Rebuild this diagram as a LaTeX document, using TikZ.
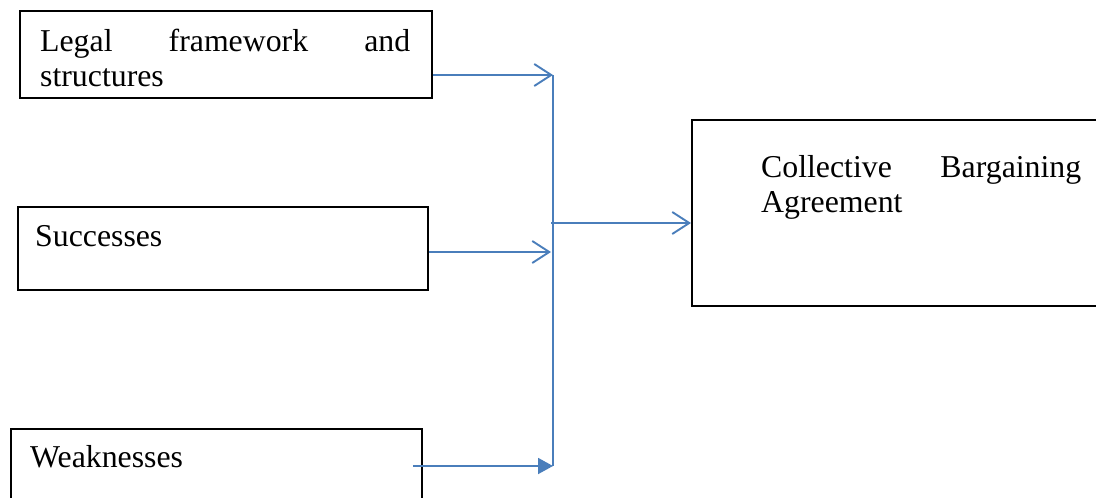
\documentclass[tikz,border=0pt]{standalone}
\usepackage{fontspec}
\setmainfont{Liberation Serif}
\usetikzlibrary{arrows.meta}
\definecolor{linkblue}{HTML}{4A7EBB}

\begin{document}
\begin{tikzpicture}[x=1pt,y=-1pt,
	box/.style={draw,line width=1.8pt,rectangle,inner sep=0pt,anchor=north west},
	lbl/.style={inner sep=0pt,anchor=base west,align=left,
		font=\fontsize{31.8}{35}\selectfont},
	link/.style={draw=linkblue,line width=1.9pt},
	barb/.style={-{Straight Barb[length=17pt,width=22pt]}}]
\useasboundingbox (0,0) rectangle (1096,498);
\clip (0,0) rectangle (1096,498);

\node[box,minimum width=412pt,minimum height=87pt] (legal) at (19,10) {};
\node[box,minimum width=410pt,minimum height=83pt] (success) at (17,206) {};
\node[box,minimum width=411pt,minimum height=76pt] (weak) at (10,428) {}; % runs off the bottom
\node[box,minimum width=420pt,minimum height=186pt] (cba) at (691,119) {}; % runs off the right

% base of a two-line label is its last line
\node[lbl] (legal text) at (40,86)
	{\hbox to 370pt{Legal\hfill framework\hfill and}\\structures};
\node[lbl] (success text) at (35,246)
	{Successes};
\node[lbl] (weak text) at (30,467)
	{Weaknesses};
\node[lbl] (cba text) at (761,212)
	{\hbox to 320pt{Collective\hfill Bargaining}\\Agreement};

\coordinate (top join) at (553,75);
\coordinate (mid in) at (551,252);
\coordinate (low join) at (553,466);
\coordinate (out start) at (551,223);
\coordinate (weak start) at ([xshift=-10pt]weak.east); % line starts inside the box

\draw[link] (top join) -- (low join);
\draw[link,barb] (legal.east |- top join) -- (top join);
\draw[link,barb] (success.east |- mid in) -- (mid in);
\draw[link,-{Triangle[length=15pt,width=16pt]}] (weak start |- low join) -- (low join);
\draw[link,barb] (out start) -- (cba.west |- out start);
\end{tikzpicture}
\end{document}
